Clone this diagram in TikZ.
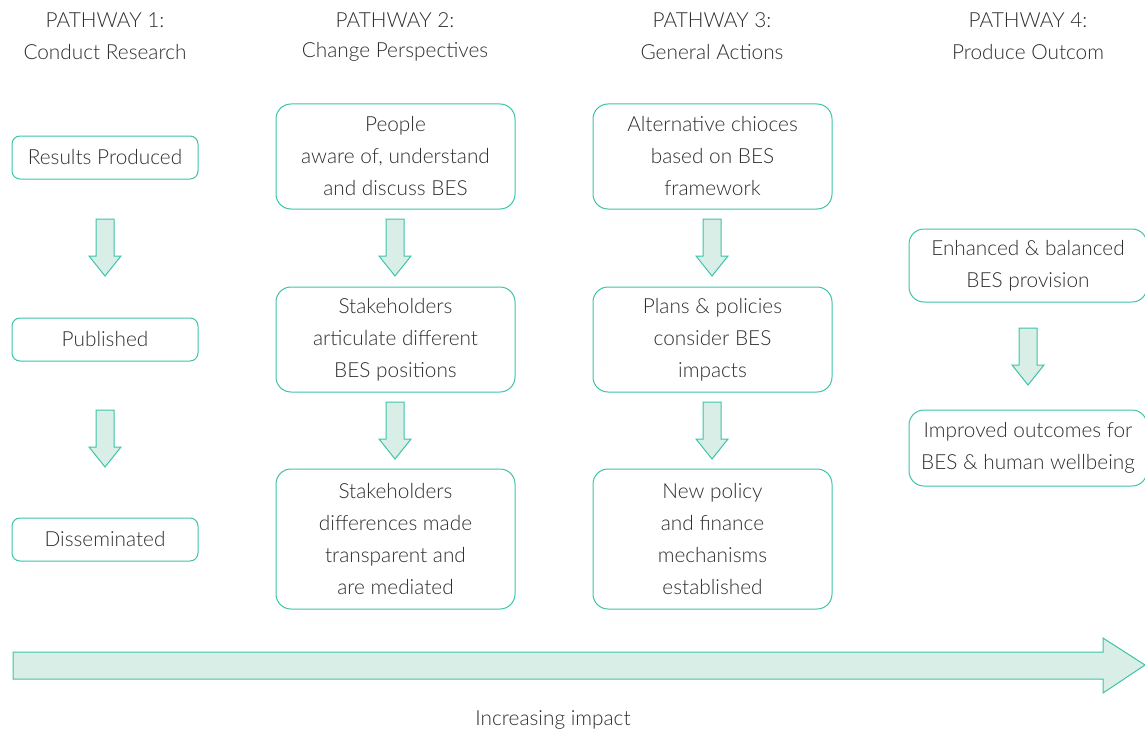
\documentclass[tikz,border=0pt]{standalone}
\usepackage{fontspec}
\setmainfont{Lato Light}
\usetikzlibrary{shapes.arrows}
\definecolor{teal1}{HTML}{3CC3A8}
\definecolor{fillg}{HTML}{D9EEE6}
\definecolor{txt}{HTML}{2E2E2E}
\begin{document}
\begin{tikzpicture}[x=1pt,y=-1pt,
  every node/.style={font=\fontsize{20.8}{32}\selectfont, text=txt, align=center},
  hdr/.style={inner sep=0pt},
  sbox/.style={draw=teal1, line width=1pt, rounded corners=8pt, inner sep=0pt},
  bbox/.style={draw=teal1, line width=1pt, rounded corners=15pt, inner sep=0pt},
  darrow/.style={draw=teal1, fill=fillg, line width=1pt}]
\useasboundingbox (0,0) rectangle (1145,733);
% headers
\node[hdr] (h1a) at (105,20) {PATHWAY 1:};
\node[hdr] (h1b) at (105,52) {Conduct Research};
\node[hdr] (h2a) at (395,20) {PATHWAY 2:};
\node[hdr] (h2b) at (395,52) {Change Perspectives};
\node[hdr] (h3a) at (712,20) {PATHWAY 3:};
\node[hdr] (h3b) at (712,52) {General Actions};
\node[hdr] (h4a) at (1028,20) {PATHWAY 4:};
\node[hdr] (h4b) at (1028,52) {Produce Outcom};
% column 1
\node[sbox, minimum width=186pt, minimum height=43pt] (c1a) at (105,157.5) {Results Produced};
\node[sbox, minimum width=186pt, minimum height=43pt] (c1b) at (105,339.5) {Published};
\node[sbox, minimum width=186pt, minimum height=43pt] (c1c) at (105,539.5) {Disseminated};
% column 2
\node[bbox, minimum width=239pt, minimum height=105pt] (c2a) at (395.5,156.5) {People\\aware of, understand\\and discuss BES};
\node[bbox, minimum width=239pt, minimum height=105pt] (c2b) at (395.5,339.5) {Stakeholders\\articulate different\\BES positions};
\node[bbox, minimum width=239pt, minimum height=140pt] (c2c) at (395.5,539) {Stakeholders\\differences made\\transparent and\\are mediated};
% column 3
\node[bbox, minimum width=239pt, minimum height=105pt] (c3a) at (712.5,156.5) {Alternative chioces\\based on BES\\framework};
\node[bbox, minimum width=239pt, minimum height=105pt] (c3b) at (712.5,339.5) {Plans \& policies\\consider BES\\impacts};
\node[bbox, minimum width=239pt, minimum height=140pt] (c3c) at (712.5,539) {New policy\\and finance\\mechanisms\\established};
% column 4
\node[bbox, minimum width=238pt, minimum height=73pt] (c4a) at (1028,265.5) {Enhanced \& balanced\\BES provision};
\node[bbox, minimum width=238pt, minimum height=76pt] (c4b) at (1028,448) {Improved outcomes for\\BES \& human wellbeing};
% down arrows
\foreach \x/\ya/\yb/\n in {105/219/276/a1, 105/410/467/a2, 395/219/276/a3, 395/402/459/a4, 712/219/276/a5, 712/402/459/a6, 1028/328/385/a7}{
  \path[darrow] (\x-9,\ya) -- (\x+9,\ya) -- (\x+9,\yb-20) -- (\x+16,\yb-20) -- (\x,\yb) -- (\x-16,\yb-20) -- (\x-9,\yb-20) -- cycle;
}
% big arrow
\path[darrow] (13,652) -- (1103,652) -- (1103,638) -- (1145,665) -- (1103,693) -- (1103,679) -- (13,679) -- cycle;
\node[hdr] (imp) at (553,720) {Increasing impact};
\end{tikzpicture}
\end{document}
